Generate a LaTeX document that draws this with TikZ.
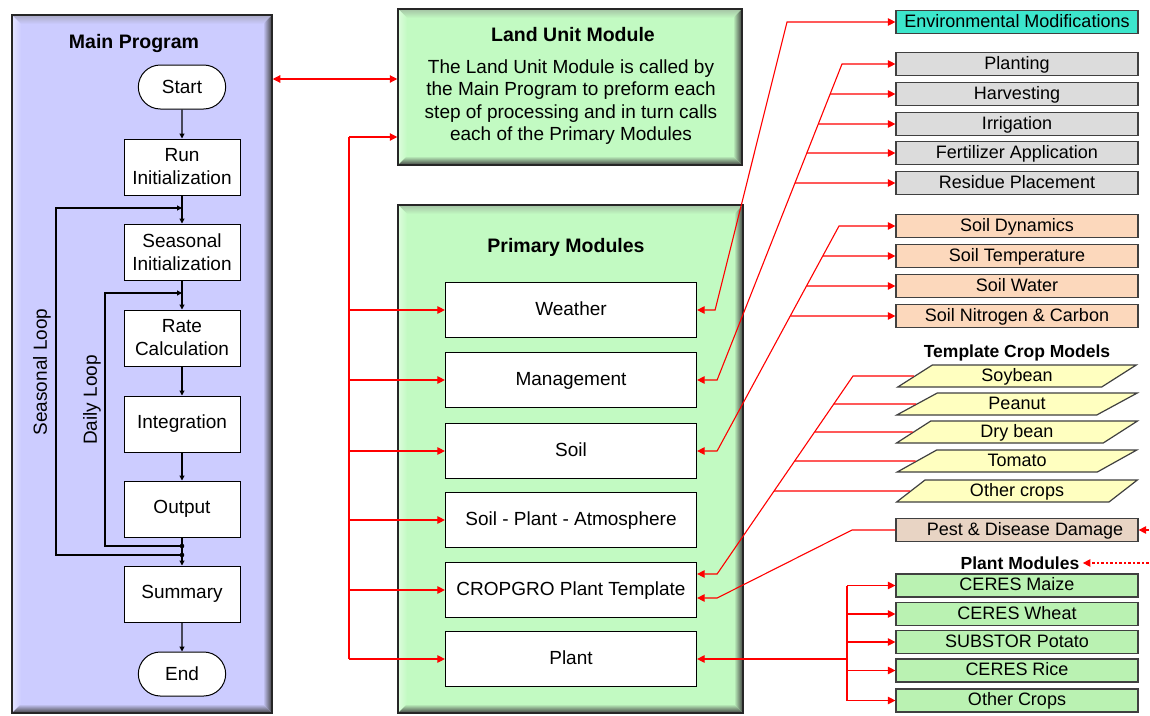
\documentclass[tikz,border=0pt]{standalone}
\usepackage{fontspec}
\setmainfont{Liberation Sans}
\usetikzlibrary{arrows.meta,shapes.geometric,shapes.misc,calc}
\definecolor{lav}{HTML}{CCCCFF}
\definecolor{pgreen}{HTML}{C2FAC2}
\definecolor{bgreen}{HTML}{BAF2B2}
\definecolor{mgray}{HTML}{DCDCDC}
\definecolor{peach}{HTML}{FCD8BC}
\definecolor{cyanb}{HTML}{3CE6CC}
\definecolor{yel}{HTML}{FFFFC0}
\definecolor{tanb}{HTML}{E8D4C4}
\newcommand\fnorm{\fontsize{19}{23}\selectfont}
\newcommand\fland{\fontsize{19}{22.5}\selectfont}
\newcommand\fright{\fontsize{18}{22}\selectfont}
\newcommand\ftitle{\fontsize{19.5}{23}\selectfont\bfseries}
\newcommand\fsub{\fontsize{17.5}{21}\selectfont\bfseries}
\newcommand\bevpanel[5]{%
  \fill[#5] (#1,#2) rectangle (#3,#4);
  \shade[top color=#5!55!gray, bottom color=#5] (#1,#2) -- (#3,#2) -- (#3-9,#2+9) -- (#1+9,#2+9) -- cycle;
  \shade[left color=white!45!#5, right color=#5] (#1,#2) -- (#1+9,#2+9) -- (#1+9,#4-9) -- (#1,#4) -- cycle;
  \shade[left color=#5, right color=black!75] (#3,#2) -- (#3,#4) -- (#3-9,#4-9) -- (#3-9,#2+9) -- cycle;
  \shade[top color=#5, bottom color=black!75] (#1,#4) -- (#3,#4) -- (#3-9,#4-9) -- (#1+9,#4-9) -- cycle;
}
\tikzset{
  rl/.style={red, line width=1.1pt},
  ra/.style={rl, -{Triangle[length=7.5pt,width=7.5pt]}},
  rboth/.style={rl, {Triangle[length=7.5pt,width=7.5pt]}-{Triangle[length=7.5pt,width=7.5pt]}},
  ba/.style={black, line width=1.1pt, -{Triangle[length=5pt,width=5pt]}},
  panelb/.style={draw=black!85, line width=1.5pt, inner sep=0pt},
  fc/.style={draw, fill=white, line width=1pt, minimum width=116pt, minimum height=56pt, align=center, font=\fnorm, inner sep=1pt},
  term/.style={rounded rectangle, draw, fill=white, line width=1pt, minimum width=94pt, minimum height=44pt, font=\fnorm},
  pm/.style={draw, fill=white, line width=1.2pt, minimum width=251pt, minimum height=55pt, font=\fnorm, text height=13pt, text depth=2pt},
  rbox/.style={draw=black!75, line width=1.2pt, minimum width=242pt, minimum height=23pt, inner sep=0pt, font=\fright, text height=12.5pt, text depth=2pt},
  para/.style={trapezium, trapezium left angle=45, trapezium right angle=135, trapezium stretches=true,
    draw=black!75, line width=1.2pt, fill=yel, minimum width=241pt, minimum height=22pt, inner sep=0pt, font=\fright, text height=12.5pt, text depth=2pt},
}
\begin{document}
\begin{tikzpicture}[x=1pt,y=-1pt]
\useasboundingbox[fill=white] (0,0) rectangle (1150,715);

% panels
\bevpanel{12}{15}{272}{713}{lav}
\node[panelb, minimum width=260pt, minimum height=698pt] (mainp) at (142,364) {};
\bevpanel{398}{9}{742}{165}{pgreen}
\node[panelb, minimum width=344pt, minimum height=156pt] (landp) at (570,87) {};
\bevpanel{398}{205}{743}{713}{pgreen}
\node[panelb, minimum width=345pt, minimum height=508pt] (primp) at (570.5,459) {};

% titles
\node[font=\ftitle] (mptitle) at (134,43) {Main Program};
\node[font=\ftitle] (lutitle) at (573,35) {Land Unit Module};
\node[font=\fland, align=center] (lutext) at (571,102) {The Land Unit Module is called by\\the Main Program to preform each\\step of processing and in turn calls\\each of the Primary Modules};
\node[font=\ftitle] (pmodt) at (566,247) {Primary Modules};

% flowchart
\node[term] (start) at (182,87) {Start};
\node[fc] (runinit) at (182,167) {Run\\Initialization};
\node[fc] (seasinit) at (182,252) {Seasonal\\Initialization};
\node[fc] (rate) at (182,338) {Rate\\Calculation};
\node[fc] (integ) at (182,424) {Integration};
\node[fc] (output) at (182,509) {Output};
\node[fc] (summary) at (182,594) {Summary};
\node[term] (endn) at (182,674) {End};
\node[rotate=90, font=\fnorm] (sloop) at (42,372) {Seasonal Loop};
\node[rotate=90, font=\fnorm] (dloop) at (92,400) {Daily Loop};

\draw[ba] (start) -- (runinit);
\draw[ba] (runinit) -- (seasinit);
\draw[ba] (seasinit) -- (rate);
\draw[ba] (rate) -- (integ);
\draw[ba] (integ) -- (output);
\draw[ba] (output) -- (summary);
\draw[ba] (summary) -- (endn);
\coordinate (sjt) at (182,208);
\coordinate (sjb) at (182,555);
\coordinate (djt) at (182,293);
\coordinate (djb) at (182,546);
\draw[ba] (sjb) -- (56,555) -- (56,208) -- (sjt);
\draw[ba] (djb) -- (105,546) -- (105,293) -- (djt);
\fill (sjb) circle (2.3);
\fill (djb) circle (2.3);

% primary modules
\node[pm] (weather) at (571,310) {Weather};
\node[pm] (mgmt) at (571,380) {Management};
\node[pm] (soil) at (571,451) {Soil};
\node[pm] (spa) at (571,520) {Soil - Plant - Atmosphere};
\node[pm] (cropgro) at (571,590) {CROPGRO Plant Template};
\node[pm] (plant) at (571,659) {Plant};

% right boxes
\node[rbox, fill=cyanb] (envmod) at (1017,22) {Environmental Modifications};
\node[rbox, fill=mgray] (planting) at (1017,64) {Planting};
\node[rbox, fill=mgray] (harv) at (1017,94) {Harvesting};
\node[rbox, fill=mgray] (irrig) at (1017,124) {Irrigation};
\node[rbox, fill=mgray] (fert) at (1017,153) {Fertilizer Application};
\node[rbox, fill=mgray] (resid) at (1017,183) {Residue Placement};
\node[rbox, fill=peach] (soildyn) at (1017,226) {Soil Dynamics};
\node[rbox, fill=peach] (soiltemp) at (1017,256) {Soil Temperature};
\node[rbox, fill=peach] (soilwat) at (1017,286) {Soil Water};
\node[rbox, fill=peach] (soilnc) at (1017,316) {Soil Nitrogen \& Carbon};
\node[font=\fsub] (tcmt) at (1017,353) {Template Crop Models};
\node[para] (soy) at (1017,376) {Soybean};
\node[para] (pea) at (1017,404) {Peanut};
\node[para] (dry) at (1017,432) {Dry bean};
\node[para] (tom) at (1017,461) {Tomato};
\node[para] (oth) at (1017,491) {Other crops};
\node[rbox, fill=tanb] (pest) at (1017,530) {\hspace*{16pt}Pest \& Disease Damage};
\node[font=\fsub] (pmtitle) at (1020,563) {Plant Modules};
\node[rbox, fill=bgreen] (maize) at (1017,585.5) {CERES Maize};
\node[rbox, fill=bgreen] (wheat) at (1017,614) {CERES Wheat};
\node[rbox, fill=bgreen] (potato) at (1017,642) {SUBSTOR Potato};
\node[rbox, fill=bgreen] (rice) at (1017,670.5) {CERES Rice};
\node[rbox, fill=bgreen] (othcr) at (1017,700.5) {Other Crops};

% main <-> land unit
\draw[rboth] (mainp.east |- 0,79) -- (landp.west |- 0,79);

% left bus
\coordinate (lb1) at (349,137);
\draw[ra] (lb1) -- (landp.west |- lb1);
\draw[rl] (lb1) -- (plant.west -| lb1);
\draw[ra] (weather.west -| lb1) -- (weather.west);
\draw[ra] (mgmt.west -| lb1) -- (mgmt.west);
\draw[ra] (soil.west -| lb1) -- (soil.west);
\draw[ra] (spa.west -| lb1) -- (spa.west);
\draw[ra] (cropgro.west -| lb1) -- (cropgro.west);
\draw[ra] (plant.west -| lb1) -- (plant.west);

% weather <-> env mod
\draw[rboth] (weather.east) -- ++(18,0) -- (envmod.west -| 787,0) -- (envmod.west);

% management group
\coordinate (m1) at ($(mgmt.east)+(20,0)$);
\coordinate (m2) at (planting.west -| 842,0);
\draw[rboth] (mgmt.east) -- (m1) -- (m2) -- (planting.west);
\draw[ra] (intersection of m1--m2 and harv.west--harv.east) -- (harv.west);
\draw[ra] (intersection of m1--m2 and irrig.west--irrig.east) -- (irrig.west);
\draw[ra] (intersection of m1--m2 and fert.west--fert.east) -- (fert.west);
\draw[ra] (intersection of m1--m2 and resid.west--resid.east) -- (resid.west);

% soil group
\coordinate (s1) at ($(soil.east)+(20,0)$);
\coordinate (s2) at (soildyn.west -| 839,0);
\draw[rboth] (soil.east) -- (s1) -- (s2) -- (soildyn.west);
\draw[ra] (intersection of s1--s2 and soiltemp.west--soiltemp.east) -- (soiltemp.west);
\draw[ra] (intersection of s1--s2 and soilwat.west--soilwat.east) -- (soilwat.west);
\draw[ra] (intersection of s1--s2 and soilnc.west--soilnc.east) -- (soilnc.west);

% template crop models
\coordinate (t1) at ($(cropgro.east)+(20,-16)$);
\coordinate (t2) at (soy.west -| 853,0);
\coordinate (cgu) at ($(cropgro.east)+(0,-16)$);
\draw[ra] (soy.west) -- (t2) -- (t1) -- (cgu);
\draw[rl] (intersection of t1--t2 and pea.west--pea.east) -- (pea.west);
\draw[rl] (intersection of t1--t2 and dry.west--dry.east) -- (dry.west);
\draw[rl] (intersection of t1--t2 and tom.west--tom.east) -- (tom.west);
\draw[rl] (intersection of t1--t2 and oth.west--oth.east) -- (oth.west);

% pest
\coordinate (p1) at ($(cropgro.east)+(20,8)$);
\coordinate (p2) at (pest.west -| 852,0);
\coordinate (cgl) at ($(cropgro.east)+(0,8)$);
\draw[ra] (pest.west) -- (p2) -- (p1) -- (cgl);

% plant modules
\coordinate (pb1) at (maize.west -| 847,0);
\draw[rl] (pb1) -- (othcr.west -| pb1);
\draw[ra] (pb1) -- (maize.west);
\draw[ra] (wheat.west -| pb1) -- (wheat.west);
\draw[ra] (potato.west -| pb1) -- (potato.west);
\draw[ra] (rice.west -| pb1) -- (rice.west);
\draw[ra] (othcr.west -| pb1) -- (othcr.west);
\draw[ra] (plant.east -| pb1) -- (plant.east);

% dotted incoming
\coordinate (pestsrc) at (1153,530);
\coordinate (pmsrc) at (1153,563);
\draw[ra, dash pattern=on 2.5pt off 2pt] (pestsrc) -- (pest.east);
\draw[ra, dash pattern=on 2.5pt off 2pt] (pmsrc) -- (pmtitle.east);
\end{tikzpicture}
\end{document}
